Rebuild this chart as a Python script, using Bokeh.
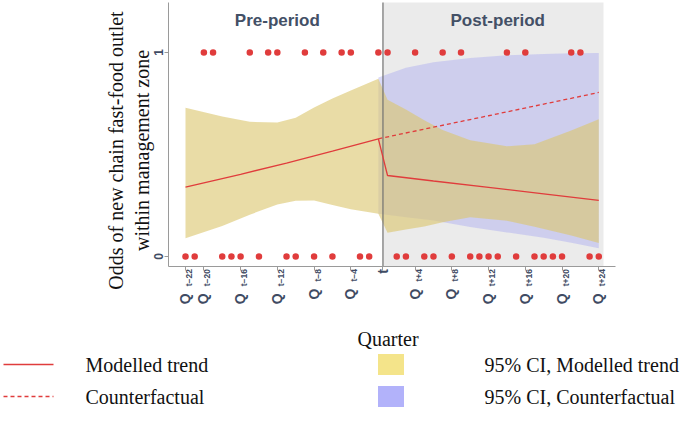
import math
from bokeh.plotting import figure
from bokeh.models import Range1d, FixedTicker, BoxAnnotation, Label, LinearAxis
from bokeh.core.properties import value
from bokeh.embed import file_html
from bokeh.resources import INLINE

# ---------------- data ----------------
pre_quarters = list(range(-22, 0))
pre_new_outlet = [0, 0, 1, 1, 0, 0, 0, 1, 0, 1, 1, 0, 0, 1, 0, 1, 0, 1, 1, 0, 0, 1]
post_quarters = list(range(1, 25))
post_new_outlet = [1, 0, 0, 1, 0, 0, 1, 0, 1, 0, 0, 0, 0, 1, 0, 1, 0, 0, 0, 0, 1, 1, 0, 0]

trend_quarters = [-22, -16, -11, -6, -1, 1, 6, 12, 18, 24]
trend_odds = [0.340, 0.403, 0.458, 0.516, 0.577, 0.397, 0.370, 0.339, 0.307, 0.275]

counter_quarters = [-1, 6, 12, 18, 24]
counter_odds = [0.577, 0.634, 0.690, 0.747, 0.804]

ci_quarters = [-22, -18, -15, -12, -10, -8, -6, -4, -1, 1, 3, 5, 7, 10, 14, 17, 21, 24]
ci_upper = [0.729, 0.686, 0.660, 0.657, 0.680, 0.730, 0.775, 0.814, 0.871,
            0.768, 0.720, 0.668, 0.620, 0.570, 0.540, 0.550, 0.618, 0.673]
ci_lower = [0.090, 0.150, 0.205, 0.255, 0.273, 0.274, 0.252, 0.232, 0.209,
            0.116, 0.132, 0.147, 0.168, 0.193, 0.175, 0.146, 0.103, 0.066]

cf_ci_quarters = [-1, 3, 6, 10, 14, 18, 21, 24]
cf_ci_upper = [0.877, 0.925, 0.952, 0.973, 0.986, 0.993, 0.996, 0.997]
cf_ci_lower = [0.209, 0.192, 0.176, 0.144, 0.118, 0.092, 0.068, 0.040]

tick_quarters = [-22, -20, -16, -12, -8, -4, 0, 4, 8, 12, 16, 20, 24]
tick_main = ["Q", "Q", "Q", "Q", "Q", "Q", "t", "Q", "Q", "Q", "Q", "Q", "Q"]
tick_sub = ["t\u221222", "t\u221220", "t\u221216", "t\u221212", "t\u22128", "t\u22124", "",
            "t+4", "t+8", "t+12", "t+16", "t+20", "t+24"]

period_labels = ["Pre-period", "Post-period"]
y_title_lines = ["Odds of new chain fast-food outlet", "within management zone"]
x_title = "Quarter"
legend_lines = ["Modelled trend", "Counterfactual"]
legend_bands = ["95% CI, Modelled trend", "95% CI, Counterfactual"]

# ---------------- styling / layout helpers ----------------
RED = "#E03C3C"
YELLOW = "#DCC770"
BLUE = "#A8A8F0"
TICK_COLOR = "#3F4B63"
AXIS_COLOR = "#9A9A9A"
SERIF = "Liberation Serif"
SANS = "Liberation Sans"

PX_PER_Q = 9.184    # pixels per quarter
PX_PER_Y = 204.0    # pixels per unit of odds


def pos(q):
    """axis position of a quarter (the intervention boundary t sits between t-1 and t+1)"""
    if q < 0:
        return q
    if q == 0:
        return -0.5
    return q - 1


def x_at(px):
    return -22 + (px - 185) / PX_PER_Q


def y_at(px):
    return (256 - px) / PX_PER_Y


W, H = 680, 407
PLOT_L, PLOT_R, PLOT_T, PLOT_B = 168, 603, 2, 266   # plot area in canvas pixels

p = figure(width=W, height=H,
           x_range=Range1d(x_at(0), x_at(W)),
           y_range=Range1d(y_at(H), y_at(0)),
           x_axis_type=None, y_axis_type=None,
           toolbar_location=None, output_backend="svg",
           min_border=0)
p.outline_line_color = None

# post-period shading
p.add_layout(BoxAnnotation(left=pos(0), right=x_at(PLOT_R), bottom=y_at(PLOT_B), top=y_at(PLOT_T),
                           fill_color="#EBEBEB", fill_alpha=1.0, line_color=None, level="underlay"))

# confidence bands
p.varea(x=[pos(q) for q in cf_ci_quarters], y1=cf_ci_lower, y2=cf_ci_upper,
        fill_color=BLUE, fill_alpha=0.42)
p.varea(x=[pos(q) for q in ci_quarters], y1=ci_lower, y2=ci_upper,
        fill_color=YELLOW, fill_alpha=0.62)

# intervention line
p.segment(x0=[pos(0)], y0=[y_at(PLOT_B)], x1=[pos(0)], y1=[y_at(PLOT_T)],
          line_color="#707070", line_width=1.2)

# trends
p.line([pos(q) for q in trend_quarters], trend_odds, line_color=RED, line_width=1.3)
p.line([pos(q) for q in counter_quarters], counter_odds, line_color=RED, line_width=1.3,
       line_dash="4 3")

# observed quarters
p.scatter([pos(q) for q in pre_quarters + post_quarters], pre_new_outlet + post_new_outlet,
          size=6.5, fill_color=RED, line_color=None)

# axes (fixed at the plot-area edges)
yax = LinearAxis(fixed_location=x_at(PLOT_L), bounds=(y_at(PLOT_B), y_at(PLOT_T)),
                 ticker=FixedTicker(ticks=[0, 1]))
yax.major_label_orientation = "vertical"
yax.major_label_text_font = SANS
yax.major_label_text_font_style = "bold"
yax.major_label_text_font_size = "12px"
yax.major_label_text_color = TICK_COLOR
yax.major_label_standoff = 2
p.add_layout(yax, "left")

xticks = [pos(q) for q in tick_quarters]
xax = LinearAxis(fixed_location=y_at(PLOT_B), bounds=(x_at(PLOT_L), x_at(615)),
                 ticker=FixedTicker(ticks=xticks))
xax.major_label_overrides = {t: "" for t in xticks}
p.add_layout(xax, "below")

for ax in (xax, yax):
    ax.axis_line_color = AXIS_COLOR
    ax.major_tick_line_color = AXIS_COLOR
    ax.major_tick_out = 4
    ax.major_tick_in = 0
    ax.minor_tick_out = 0
    ax.minor_tick_in = 0

# Q tick labels with subscripts
SUB_PX = 8.5
SUB_W = {"t": 0.333, "\u2212": 0.584, "+": 0.584}
for q, main, sub in zip(tick_quarters, tick_main, tick_sub):
    xp = pos(q)
    if sub:
        sublen = sum(SUB_W.get(c, 0.556) for c in sub) * SUB_PX
        p.add_layout(Label(x=xp + 3.5 / PX_PER_Q, y=y_at(268.5), text=sub, angle=math.pi / 2,
                           text_align="right", text_baseline="middle", text_font=SANS,
                           text_font_style="bold", text_font_size=f"{SUB_PX}px",
                           text_color=TICK_COLOR))
        p.add_layout(Label(x=xp - 0.5 / PX_PER_Q, y=y_at(268.5 + sublen + 7), text=main,
                           angle=math.pi / 2, text_align="right", text_baseline="middle",
                           text_font=SANS, text_font_style="bold", text_font_size="14px",
                           text_color=TICK_COLOR))
    else:
        p.add_layout(Label(x=xp, y=y_at(268.5), text=main, angle=math.pi / 2,
                           text_align="right", text_baseline="middle", text_font=SANS,
                           text_font_style="bold", text_font_size="14px", text_color=TICK_COLOR))

# period headers
for cx, txt in zip([-12, 12], period_labels):
    p.add_layout(Label(x=cx, y=y_at(20), text=txt, text_align="center", text_baseline="middle",
                       text_font=SANS, text_font_style="bold", text_font_size="17px",
                       text_color="#435066"))

# axis titles
for px_x, line in zip([115, 141.5], y_title_lines):
    p.add_layout(Label(x=x_at(px_x), y=y_at(150), text=line, angle=math.pi / 2,
                       text_align="center", text_baseline="middle", text_font=SERIF,
                       text_font_size="20px", text_color="#111111"))
p.add_layout(Label(x=x_at(387.5), y=y_at(338), text=x_title, text_align="center",
                   text_baseline="alphabetic", text_font=SERIF, text_font_size="20px",
                   text_color="#111111"))

# ---------------- legend (below the plot area) ----------------
rows = [y_at(364), y_at(396)]
p.line([x_at(3), x_at(53)], [rows[0], rows[0]], line_color=RED, line_width=1.3)
p.line([x_at(3), x_at(53)], [rows[1], rows[1]], line_color=RED, line_width=1.3, line_dash="4 3")
p.rect(x=[x_at(390.5)] * 2, y=rows, width=26 / PX_PER_Q, height=21 / PX_PER_Y,
       fill_color=["#F4E48A", "#B2B2FA"], line_color=None)
p.text(x=[x_at(85)] * 2, y=rows, text=legend_lines, text_font=value(SERIF),
       text_font_size="20px", text_baseline="middle", text_color="#111111")
p.text(x=[x_at(484)] * 2, y=rows, text=legend_bands, text_font=value(SERIF),
       text_font_size="20px", text_baseline="middle", text_color="#111111")

open("out.html", "w").write(file_html(p, INLINE))
